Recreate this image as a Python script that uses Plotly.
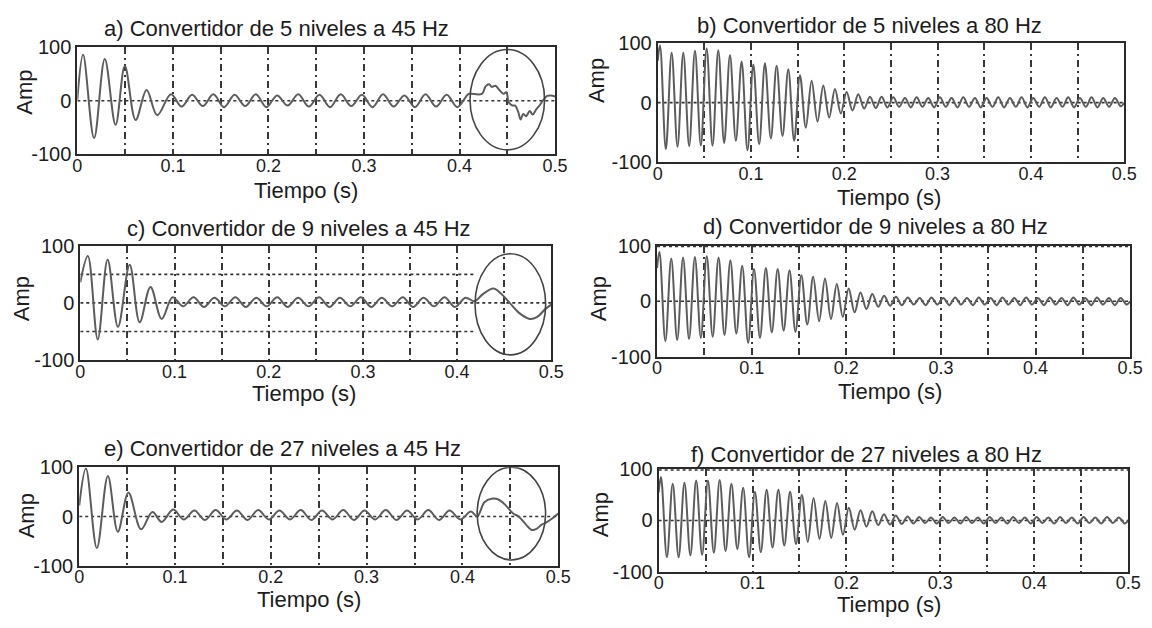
import plotly.graph_objects as go

W, H = 1152, 628

# ---------------- data ----------------
titles = [
    "a) Convertidor de 5 niveles a 45 Hz",
    "b) Convertidor de 5 niveles a 80 Hz",
    "c) Convertidor de 9 niveles a 45 Hz",
    "d) Convertidor de 9 niveles a 80 Hz",
    "e) Convertidor de 27 niveles a 45 Hz",
    "f) Convertidor de 27 niveles a 80 Hz",
]
x_title = "Tiempo (s)"
y_title = "Amp"
x_tickvals = [0, 0.1, 0.2, 0.3, 0.4, 0.5]
x_ticktext = ["0", "0.1", "0.2", "0.3", "0.4", "0.5"]
x_minor_grid = [0.05, 0.15, 0.25, 0.35, 0.45]
y_tickvals = [-100, 0, 100]
y_ticktext = ["-100", "0", "100"]

# 80 Hz panels: times of peaks and troughs (s)
t80_pk = [0.0025, 0.015, 0.0275, 0.04, 0.0525, 0.065, 0.0775, 0.09, 0.1025, 0.115,
          0.1275, 0.14, 0.1525, 0.165, 0.1775, 0.19, 0.2025, 0.215, 0.2275, 0.24,
          0.2525, 0.265, 0.2775, 0.29, 0.3025, 0.315, 0.3275, 0.34, 0.3525, 0.365,
          0.3775, 0.39, 0.4025, 0.415, 0.4275, 0.44, 0.4525, 0.465, 0.4775, 0.49]
t80_tr = [0.0088, 0.0213, 0.0338, 0.0463, 0.0588, 0.0713, 0.0838, 0.0963, 0.1088, 0.1213,
          0.1338, 0.1463, 0.1588, 0.1713, 0.1838, 0.1963, 0.2088, 0.2213, 0.2338, 0.2463,
          0.2588, 0.2713, 0.2838, 0.2963, 0.3088, 0.3213, 0.3338, 0.3463, 0.3588, 0.3713,
          0.3838, 0.3963, 0.4088, 0.4213, 0.4338, 0.4463, 0.4588, 0.4713, 0.4838, 0.4963]

b_start, b_end = 70, 0
b_pk = [96, 84, 84, 87, 91, 88, 80, 69, 64, 66, 62, 56, 46, 37, 29, 23, 18, 14, 10,
        10, 9, 8, 9, 8, 9, 8, 9, 8, 8, 9, 8, 9, 8, 9, 8, 9, 8, 9, 8, 8]
b_tr = [-78, -74, -73, -72, -72, -68, -64, -80, -70, -60, -56, -64, -42, -32, -25, -18, -13,
        -10, -9, -8, -7, -8, -7, -8, -7, -8, -7, -8, -7, -8, -7, -8, -7, -8, -7, -8, -7, -8, -7, -6]

d_start, d_end = 60, 0
d_pk = [89, 77, 79, 80, 81, 79, 74, 64, 58, 60, 58, 56, 47, 44, 41, 31, 23, 16, 13,
        10, 8, 7, 6, 7, 6, 7, 6, 7, 6, 7, 6, 7, 6, 7, 6, 7, 6, 7, 6, 6]
d_tr = [-72, -70, -68, -66, -64, -61, -58, -75, -66, -56, -53, -55, -42, -36, -32, -28, -20, -14,
        -10, -8, -7, -6, -7, -6, -7, -6, -7, -6, -7, -6, -7, -6, -7, -6, -7, -6, -7, -6, -7, -6]

f_start, f_end = 55, 0
f_pk = [85, 72, 74, 78, 78, 79, 72, 64, 56, 60, 60, 56, 50, 44, 38, 34, 25, 20, 18,
        12, 10, 8, 7, 6, 7, 6, 7, 6, 7, 6, 7, 6, 7, 6, 7, 6, 7, 6, 7, 6]
f_tr = [-72, -72, -68, -67, -63, -60, -56, -72, -62, -53, -49, -46, -42, -36, -34, -28, -18, -12,
        -9, -8, -7, -6, -5, -6, -5, -6, -5, -6, -5, -6, -5, -6, -5, -6, -5, -6, -5, -6, -5, -6]

# 45 Hz panels: steady-state extrema times (s)
t45_steady = [0.098, 0.1091, 0.1202, 0.1313, 0.1424, 0.1535, 0.1646, 0.1757, 0.1868, 0.1979,
              0.209, 0.2201, 0.2312, 0.2423, 0.2534, 0.2645, 0.2756, 0.2867, 0.2978, 0.3089,
              0.32, 0.3311, 0.3422, 0.3533, 0.3644, 0.3755, 0.3866, 0.3977, 0.4088]

a_early_t = [0, 0.006, 0.0175, 0.0287, 0.04, 0.0497, 0.061, 0.0725, 0.0836]
a_early_y = [2, 86, -70, 78, -45, 65, -36, 20, -27]
a_steady = [12, -11, 11, -10, 12, -12, 11, -10, 12, -12, 10, -9, 12, -11, 11, -12, 12, -10,
            11, -12, 12, -11, 10, -12, 12, -11, 11, -12, 12]
a_circ_t = [0.4115, 0.4235, 0.4273, 0.431, 0.4337, 0.4375, 0.4413, 0.446, 0.449, 0.4515,
            0.4553, 0.4583, 0.4614, 0.464, 0.4667, 0.4697, 0.4735, 0.4765, 0.4803, 0.4841,
            0.4879, 0.4917, 0.4955, 0.5]
a_circ_y = [13, 13, 27, 31, 26, 28, 21, 13, 16, -3, -9, -9, -21, -35, -25, -29, -19, -26,
            -16, -8, 2, 9, 10, 8]

c_early_t = [0, 0.008, 0.0185, 0.029, 0.040, 0.0524, 0.063, 0.0745, 0.0864]
c_early_y = [36, 82, -64, 76, -42, 67, -34, 28, -28]
c_steady = [10, -6, 10, -7, 9, -6, 10, -7, 9, -6, 10, -7, 9, -6, 10, -7, 9, -6,
            10, -7, 9, -6, 10, -7, 9, -6, 10, -7, 9]
c_circ_t = [0.4186, 0.427, 0.4385, 0.4462, 0.4558, 0.4654, 0.477, 0.4846, 0.4942, 0.5]
c_circ_y = [3, 15, 25, 17, 0, -17, -28, -25, -10, -3]

e_early_t = [0, 0.007, 0.0184, 0.0299, 0.0403, 0.0514, 0.0646, 0.0764, 0.0861]
e_early_y = [22, 97, -64, 82, -31, 48, -26, 9, -11]
e_steady = [14, -6, 12, -7, 13, -6, 12, -7, 13, -6, 12, -6, 13, -7, 12, -6, 13, -7,
            12, -6, 13, -7, 12, -6, 13, -7, 12, -6, 10]
e_circ_t = [0.4154, 0.423, 0.4305, 0.438, 0.4455, 0.453, 0.4586, 0.4662, 0.4718, 0.4774,
            0.483, 0.4868, 0.4944, 0.5]
e_circ_y = [0, 29, 36, 34, 22, 6, 0, -16, -27, -25, -16, -13, -3, 6]

# highlight ellipses (t0, t1, amp0, amp1)
circle_a = [0.411, 0.489, -92, 96]
circle_c = [0.419, 0.494, -91, 86]
circle_e = [0.4154, 0.4868, -88, 100]

# dotted reference levels: (level, t_end)
ref_a = [(0, 0.5)]
ref_b = [(0, 0.5)]
ref_c = [(0, 0.5), (50, 0.42), (-50, 0.42)]
ref_d = [(0, 0.5), (99, 0.5)]
ref_e = [(0, 0.5)]
ref_f = [(0, 0.5), (99, 0.5)]


def interleave(pk, tr):
    out = []
    for p, q in zip(pk, tr):
        out += [p, q]
    return out


t80 = [0] + interleave(t80_pk, t80_tr) + [0.5]

panels = [
    dict(t=a_early_t + t45_steady + a_circ_t, y=a_early_y + a_steady + a_circ_y,
         box=(73.5, 558.8, 37.7, 148.3), title=(276, 18), xt=(306, 186), yt=(19, 84),
         circ=circle_a, ref=ref_a),
    dict(t=t80, y=[b_start] + interleave(b_pk, b_tr) + [b_end],
         box=(663, 1137, 33.3, 156.7), title=(878, 15), xt=(898, 193), yt=(601, 72),
         circ=None, ref=ref_b),
    dict(t=c_early_t + t45_steady + c_circ_t, y=c_early_y + c_steady + c_circ_y,
         box=(76.5, 555, 243.3, 361.7), title=(299, 225), xt=(304, 396), yt=(17, 298),
         circ=circle_c, ref=ref_c),
    dict(t=t80, y=[d_start] + interleave(d_pk, d_tr) + [d_end],
         box=(662.4, 1143, 243.3, 358.3), title=(884, 223), xt=(899, 394), yt=(603, 298),
         circ=None, ref=ref_d),
    dict(t=e_early_t + t45_steady + e_circ_t, y=e_early_y + e_steady + e_circ_y,
         box=(75.4, 562, 472.7, 575), title=(282, 453), xt=(309, 610), yt=(22, 523),
         circ=circle_e, ref=ref_e),
    dict(t=t80, y=[f_start] + interleave(f_pk, f_tr) + [f_end],
         box=(664, 1141, 475, 581), title=(875, 460), xt=(898, 615.5), yt=(605, 522),
         circ=None, ref=ref_f),
]

FONT = "Liberation Sans, Arial, sans-serif"
TXT = "#1c1c1c"
SIG = "#5c5c5c"
FRAME = "#2a2a2a"
GRID = "#383838"
GRID_DASH = "7px,4px,2px,4px"

fig = go.Figure()
annotations = []
shapes = []

for i, (p, ttl) in enumerate(zip(panels, titles)):
    sfx = "" if i == 0 else str(i + 1)
    xa, ya = "x" + sfx, "y" + sfx
    x0, x1, y0, y1 = p["box"]
    fig.add_trace(go.Scatter(
        x=p["t"], y=p["y"], xaxis=xa, yaxis=ya, mode="lines",
        line=dict(color=SIG, width=2, shape="spline", smoothing=1.0),
        hoverinfo="skip", showlegend=False))
    fig.update_layout(**{
        "xaxis" + sfx: dict(
            domain=[x0 / W, x1 / W], anchor=ya, range=[0, 0.5],
            tickvals=x_tickvals, ticktext=x_ticktext, ticks="", ticklen=0,
            ticklabelstandoff=-6,
            tickfont=dict(family=FONT, size=18, color=TXT),
            showgrid=True, griddash=GRID_DASH, gridcolor=GRID, gridwidth=1.5,
            minor=dict(tickvals=x_minor_grid, showgrid=True, griddash=GRID_DASH,
                       gridcolor=GRID, gridwidth=1.5, ticks=""),
            showline=True, mirror=True, linecolor=FRAME, linewidth=2,
            zeroline=False, fixedrange=True),
        "yaxis" + sfx: dict(
            domain=[1 - y1 / H, 1 - y0 / H], anchor=xa, range=[-100, 100],
            tickvals=y_tickvals, ticktext=y_ticktext, ticks="", ticklen=0,
            tickfont=dict(family=FONT, size=20, color=TXT),
            showgrid=False, showline=True, mirror=True, linecolor=FRAME, linewidth=2,
            zeroline=False, fixedrange=True),
    })
    for lvl, tend in p["ref"]:
        shapes.append(dict(type="line", xref=xa, yref=ya, x0=0, x1=tend, y0=lvl, y1=lvl,
                           line=dict(color="#333333", width=1.6, dash="dot"), layer="below"))
    if p["circ"]:
        c0, c1, c2, c3 = p["circ"]
        shapes.append(dict(type="circle", xref=xa, yref=ya, x0=c0, x1=c1, y0=c2, y1=c3,
                           line=dict(color="#444444", width=1.6)))
    tx, ty = p["title"]
    annotations.append(dict(text=ttl, xref="paper", yref="paper", x=tx / W, y=1 - ty / H,
                            xanchor="center", yanchor="middle", showarrow=False,
                            font=dict(family=FONT, size=22, color=TXT)))
    xx, xy = p["xt"]
    annotations.append(dict(text=x_title, xref="paper", yref="paper", x=xx / W, y=1 - xy / H,
                            xanchor="center", yanchor="middle", showarrow=False,
                            font=dict(family=FONT, size=22, color=TXT)))
    yx, yy = p["yt"]
    annotations.append(dict(text=y_title, xref="paper", yref="paper", x=yx / W, y=1 - yy / H,
                            xanchor="center", yanchor="middle", showarrow=False, textangle=-90,
                            font=dict(family=FONT, size=22, color=TXT)))

fig.update_layout(
    width=W, height=H, margin=dict(l=0, r=0, t=0, b=0),
    paper_bgcolor="white", plot_bgcolor="white",
    annotations=annotations, shapes=shapes, showlegend=False,
)

fig.write_html("out.html", config={"displayModeBar": False})
